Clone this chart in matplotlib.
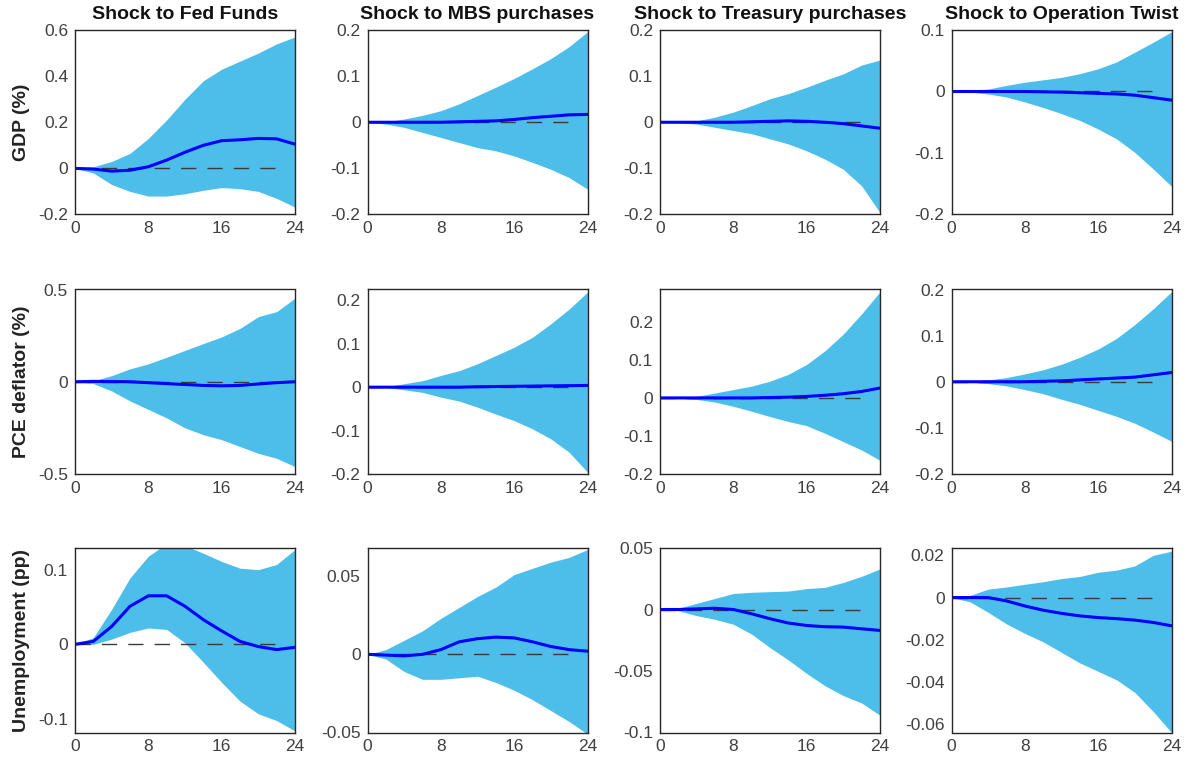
import matplotlib
matplotlib.use("Agg")
import matplotlib.pyplot as plt

plt.rcParams['font.family'] = ['Liberation Sans', 'DejaVu Sans']

# horizon (quarters), sampled every 2
h = [0, 2, 4, 6, 8, 10, 12, 14, 16, 18, 20, 22, 24]

shocks = ['Shock to Fed Funds', 'Shock to MBS purchases',
          'Shock to Treasury purchases', 'Shock to Operation Twist']
variables = ['GDP (%)', 'PCE deflator (%)', 'Unemployment (pp)']

# --- GDP responses ---
gdp_ff_lo = [0, -0.02, -0.07, -0.10, -0.12, -0.12, -0.11, -0.095, -0.083, -0.088, -0.10, -0.13, -0.168]
gdp_ff_mid = [0, -0.003, -0.012, -0.008, 0.007, 0.036, 0.07, 0.10, 0.12, 0.124, 0.13, 0.128, 0.105]
gdp_ff_hi = [0, 0.007, 0.03, 0.065, 0.13, 0.21, 0.30, 0.38, 0.43, 0.465, 0.50, 0.54, 0.57]

gdp_mbs_lo = [0, -0.004, -0.011, -0.022, -0.033, -0.044, -0.055, -0.062, -0.073, -0.087, -0.102, -0.12, -0.145]
gdp_mbs_mid = [0, 0, 0, 0, 0, 0.001, 0.002, 0.003, 0.006, 0.01, 0.013, 0.016, 0.017]
gdp_mbs_hi = [0, 0.001, 0.007, 0.015, 0.025, 0.04, 0.058, 0.076, 0.095, 0.116, 0.138, 0.164, 0.196]

gdp_tsy_lo = [0, -0.001, -0.004, -0.011, -0.018, -0.025, -0.036, -0.047, -0.062, -0.08, -0.102, -0.138, -0.196]
gdp_tsy_mid = [0, 0, 0, 0, 0, 0.001, 0.002, 0.003, 0.002, 0, -0.003, -0.008, -0.013]
gdp_tsy_hi = [0, 0.001, 0.003, 0.011, 0.022, 0.036, 0.051, 0.062, 0.076, 0.091, 0.105, 0.124, 0.135]

gdp_ot_lo = [0, -0.001, -0.004, -0.009, -0.017, -0.026, -0.036, -0.047, -0.061, -0.077, -0.099, -0.126, -0.154]
gdp_ot_mid = [0, 0, 0, 0, 0, -0.0005, -0.001, -0.002, -0.003, -0.004, -0.006, -0.01, -0.014]
gdp_ot_hi = [0, 0.002, 0.004, 0.01, 0.015, 0.019, 0.023, 0.029, 0.037, 0.048, 0.064, 0.08, 0.097]

# --- PCE deflator responses ---
pce_ff_lo = [0, -0.01, -0.05, -0.104, -0.15, -0.196, -0.25, -0.287, -0.314, -0.351, -0.388, -0.415, -0.46]
pce_ff_mid = [0, 0.002, 0.001, 0, -0.005, -0.01, -0.015, -0.02, -0.022, -0.02, -0.012, -0.005, 0.0]
pce_ff_hi = [0, 0.005, 0.033, 0.07, 0.097, 0.133, 0.17, 0.207, 0.243, 0.289, 0.353, 0.38, 0.453]

pce_mbs_lo = [0, -0.001, -0.006, -0.012, -0.023, -0.032, -0.046, -0.062, -0.077, -0.096, -0.119, -0.15, -0.196]
pce_mbs_mid = [0, 0, 0, 0, 0, 0, 0.001, 0.0015, 0.002, 0.0025, 0.003, 0.0035, 0.004]
pce_mbs_hi = [0, 0.001, 0.008, 0.015, 0.027, 0.038, 0.054, 0.073, 0.092, 0.115, 0.146, 0.18, 0.219]

pce_tsy_lo = [0, -0.001, -0.004, -0.011, -0.022, -0.035, -0.049, -0.062, -0.073, -0.093, -0.115, -0.137, -0.164]
pce_tsy_mid = [0, 0, 0, 0, 0, 0, 0.001, 0.002, 0.004, 0.007, 0.011, 0.017, 0.026]
pce_tsy_hi = [0, 0.001, 0.004, 0.013, 0.022, 0.031, 0.044, 0.062, 0.088, 0.124, 0.168, 0.221, 0.279]

pce_ot_lo = [0, -0.001, -0.004, -0.009, -0.017, -0.026, -0.038, -0.049, -0.062, -0.075, -0.09, -0.109, -0.129]
pce_ot_mid = [0, 0, 0, 0, 0, 0.001, 0.002, 0.004, 0.006, 0.008, 0.01, 0.015, 0.02]
pce_ot_hi = [0, 0.001, 0.004, 0.009, 0.017, 0.026, 0.038, 0.053, 0.071, 0.094, 0.124, 0.158, 0.195]

# --- Unemployment responses ---
ur_ff_lo = [0, 0.0, 0.007, 0.016, 0.022, 0.02, 0.002, -0.024, -0.051, -0.076, -0.093, -0.102, -0.116]
ur_ff_mid = [0, 0.004, 0.024, 0.051, 0.065, 0.065, 0.051, 0.033, 0.018, 0.004, -0.003, -0.007, -0.004]
ur_ff_hi = [0, 0.009, 0.047, 0.089, 0.118, 0.135, 0.132, 0.122, 0.111, 0.102, 0.10, 0.107, 0.127]

ur_mbs_lo = [0, -0.003, -0.011, -0.016, -0.016, -0.015, -0.014, -0.018, -0.023, -0.029, -0.036, -0.043, -0.051]
ur_mbs_mid = [0, -0.0005, -0.001, 0.0, 0.003, 0.008, 0.010, 0.011, 0.0105, 0.008, 0.005, 0.003, 0.002]
ur_mbs_hi = [0, 0.003, 0.009, 0.015, 0.023, 0.030, 0.037, 0.043, 0.051, 0.055, 0.059, 0.062, 0.067]

ur_tsy_lo = [0, -0.001, -0.005, -0.008, -0.012, -0.02, -0.031, -0.041, -0.052, -0.062, -0.07, -0.076, -0.086]
ur_tsy_mid = [0, 0, 0.0005, 0.001, 0.0, -0.0035, -0.0075, -0.011, -0.013, -0.014, -0.0143, -0.0157, -0.017]
ur_tsy_hi = [0, 0.001, 0.005, 0.009, 0.013, 0.014, 0.0145, 0.015, 0.017, 0.018, 0.022, 0.027, 0.033]

ur_ot_lo = [0, -0.002, -0.007, -0.0125, -0.017, -0.021, -0.026, -0.031, -0.035, -0.039, -0.045, -0.054, -0.064]
ur_ot_mid = [0, 0, 0, -0.0016, -0.004, -0.006, -0.0075, -0.0087, -0.0095, -0.010, -0.0107, -0.0118, -0.0134]
ur_ot_hi = [0, 0.001, 0.004, 0.005, 0.0063, 0.0075, 0.009, 0.010, 0.012, 0.013, 0.015, 0.020, 0.022]

panels = [
    [(gdp_ff_lo, gdp_ff_mid, gdp_ff_hi), (gdp_mbs_lo, gdp_mbs_mid, gdp_mbs_hi),
     (gdp_tsy_lo, gdp_tsy_mid, gdp_tsy_hi), (gdp_ot_lo, gdp_ot_mid, gdp_ot_hi)],
    [(pce_ff_lo, pce_ff_mid, pce_ff_hi), (pce_mbs_lo, pce_mbs_mid, pce_mbs_hi),
     (pce_tsy_lo, pce_tsy_mid, pce_tsy_hi), (pce_ot_lo, pce_ot_mid, pce_ot_hi)],
    [(ur_ff_lo, ur_ff_mid, ur_ff_hi), (ur_mbs_lo, ur_mbs_mid, ur_mbs_hi),
     (ur_tsy_lo, ur_tsy_mid, ur_tsy_hi), (ur_ot_lo, ur_ot_mid, ur_ot_hi)],
]

ylims = [
    [(-0.2, 0.6), (-0.2, 0.2), (-0.2, 0.2), (-0.2, 0.1)],
    [(-0.5, 0.5), (-0.2, 0.225), (-0.2, 0.285), (-0.2, 0.2)],
    [(-0.118, 0.129), (-0.05, 0.068), (-0.1, 0.05), (-0.064, 0.0235)],
]
yticks = [
    [[-0.2, 0, 0.2, 0.4, 0.6], [-0.2, -0.1, 0, 0.1, 0.2], [-0.2, -0.1, 0, 0.1, 0.2], [-0.2, -0.1, 0, 0.1]],
    [[-0.5, 0, 0.5], [-0.2, -0.1, 0, 0.1, 0.2], [-0.2, -0.1, 0, 0.1, 0.2], [-0.2, -0.1, 0, 0.1, 0.2]],
    [[-0.1, 0, 0.1], [-0.05, 0, 0.05], [-0.1, -0.05, 0, 0.05], [-0.06, -0.04, -0.02, 0, 0.02]],
]

W, H = 1192, 767
fig = plt.figure(figsize=(W / 100, H / 100), dpi=100)

lefts = [75, 367.5, 660, 951.5]
tops = [30, 289.5, 548]
aw, ah = 220, 184.5

band_col = '#4DBEEA'
line_col = '#0000FF'
txt_col = '#404040'

for r in range(3):
    for c in range(4):
        ax = fig.add_axes([lefts[c] / W, 1 - (tops[r] + ah) / H, aw / W, ah / H])
        lo, mid, hi = panels[r][c]
        ax.fill_between(h, lo, hi, color=band_col, linewidth=0)
        ax.plot([0, 23], [0, 0], color='#3a3a3a', lw=1.0, dashes=(11, 8))
        ax.plot(h, mid, color=line_col, lw=2.2)
        ax.set_xlim(0, 24)
        ax.set_ylim(*ylims[r][c])
        ax.set_xticks([0, 8, 16, 24])
        ax.set_yticks(yticks[r][c])
        ax.set_yticklabels(['0' if v == 0 else '%g' % v for v in yticks[r][c]])
        ax.tick_params(length=0, labelsize=12.5, colors=txt_col, pad=5)
        for sp in ax.spines.values():
            sp.set_color('#262626')
            sp.set_linewidth(1.0)
        if r == 0:
            ax.set_title(shocks[c], fontsize=14, fontweight='bold', color='#111111', pad=8)
        if c == 0:
            ax.set_ylabel(variables[r], fontsize=14, fontweight='bold', color='#222222')
            ax.yaxis.set_label_coords(-0.205, 0.5)

fig.savefig('out.png', dpi=100)
